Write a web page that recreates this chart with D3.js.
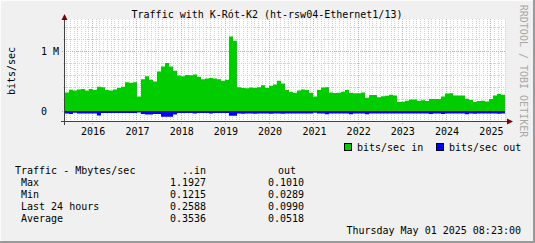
<!DOCTYPE html>
<html>
<head>
<meta charset="utf-8">
<script src="https://cdn.jsdelivr.net/npm/d3@7"></script>
<style>
  body { margin: 0; background: #f0f0f0; }
  text { font-family: "DejaVu Sans Mono", monospace; font-size: 10px; fill: #000; }
</style>
</head>
<body>
<svg id="chart" width="535" height="243"></svg>
<script>
const width = 535
const height = 243

// sampled values (M bits/sec), equally spaced over the graph period
const trafficIn = [
  0.31, 0.355, 0.34, 0.36, 0.365, 0.34, 0.365, 0.35, 0.405, 0.395,
  0.35, 0.34, 0.36, 0.385, 0.405, 0.48, 0.47, 0.48, 0.24, 0.53,
  0.58, 0.52, 0.49, 0.66, 0.74, 0.80, 0.74, 0.67, 0.59, 0.58,
  0.60, 0.595, 0.61, 0.57, 0.53, 0.54, 0.55, 0.54, 0.53, 0.505,
  0.52, 1.24, 1.17, 0.395, 0.385, 0.38, 0.39, 0.385, 0.395, 0.43,
  0.385, 0.42, 0.44, 0.505, 0.46, 0.35, 0.315, 0.305, 0.34, 0.36,
  0.35, 0.305, 0.24, 0.35, 0.39, 0.395, 0.31, 0.30, 0.305, 0.32,
  0.35, 0.305, 0.295, 0.295, 0.31, 0.22, 0.265, 0.265, 0.23, 0.245,
  0.255, 0.27, 0.26, 0.15, 0.155, 0.17, 0.19, 0.19, 0.17, 0.18,
  0.165, 0.2, 0.2, 0.2, 0.24, 0.29, 0.295, 0.26, 0.26, 0.26,
  0.205, 0.185, 0.15, 0.165, 0.17, 0.16, 0.2, 0.26, 0.285, 0.27
];
const trafficOut = [
  0.04, 0.05, 0.03, 0.04, 0.04, 0.04, 0.04, 0.04, 0.075, 0.035,
  0.035, 0.035, 0.035, 0.035, 0.035, 0.035, 0.035, 0.035, 0.025, 0.05,
  0.06, 0.06, 0.05, 0.05, 0.095, 0.095, 0.095, 0.06, 0.035, 0.035,
  0.035, 0.035, 0.04, 0.035, 0.035, 0.035, 0.04, 0.035, 0.035, 0.035,
  0.035, 0.08, 0.08, 0.04, 0.045, 0.04, 0.04, 0.045, 0.04, 0.04,
  0.04, 0.045, 0.04, 0.04, 0.045, 0.04, 0.04, 0.04, 0.04, 0.04,
  0.04, 0.04, 0.03, 0.04, 0.04, 0.055, 0.04, 0.04, 0.04, 0.04,
  0.04, 0.055, 0.04, 0.04, 0.04, 0.055, 0.04, 0.04, 0.04, 0.04,
  0.04, 0.04, 0.04, 0.04, 0.04, 0.04, 0.04, 0.04, 0.04, 0.04,
  0.04, 0.05, 0.04, 0.04, 0.05, 0.04, 0.04, 0.04, 0.04, 0.04,
  0.055, 0.04, 0.045, 0.04, 0.04, 0.04, 0.04, 0.04, 0.045, 0.04
];

const periodStart = new Date(2015, 4, 22);
const periodEnd = new Date(2025, 4, 1, 8, 23);

const yTicks = [0, 1];
const yTickLabels = ["0", "1 M"];

const statRows = ["Max", "Min", "Last 24 hours", "Average"];
const statIn = ["1.1927", "0.1215", "0.2588", "0.3536"];
const statOut = ["0.1010", "0.0289", "0.0990", "0.0518"];

const legendItems = [
  { label: "bits/sec in", color: "#00cc00" },
  { label: "bits/sec out", color: "#0000ff" }
];

const svg = d3.select("#chart");

const plotLeft = 65, plotRight = 505, plotTop = 21, plotBottom = 121;

const x = d3.scaleTime().domain([periodStart, periodEnd]).range([plotLeft, plotRight]);
const y = d3.scaleLinear().domain([-1 / 6, 1.5]).range([plotBottom, plotTop]);

// background + 3d frame
svg.append("rect").attr("width", width).attr("height", height).attr("fill", "#f0f0f0");
svg.append("path").attr("d", `M0.5,${height} V0.5 H${width}`).attr("stroke", "#fcfcfc").attr("fill", "none");
svg.append("path").attr("d", `M0,${height - 1} H${width - 1} V0`).attr("stroke", "#9a9a9a").attr("stroke-width", 2).attr("fill", "none");

// canvas
svg.append("rect").attr("x", plotLeft).attr("y", plotTop - 2).attr("width", plotRight - plotLeft).attr("height", plotBottom - plotTop + 2).attr("fill", "#fff");

// grid
const grid = svg.append("g");
const months = d3.timeMonth.range(d3.timeMonth.ceil(periodStart), periodEnd);
months.forEach(m => {
  const px = Math.round(x(m)) + 0.5;
  const major = m.getMonth() === 0;
  grid.append("line")
    .attr("x1", px).attr("x2", px).attr("y1", plotTop - 2).attr("y2", plotBottom + (major ? 3 : 2))
    .attr("stroke", major ? "#f29a9a" : "#d2d2d2")
    .attr("stroke-dasharray", "1,1");
});
d3.range(0, 1.6, 0.2).forEach(v => {
  const py = Math.round(y(v)) + 0.5;
  const major = Math.abs(v - 1) < 1e-6 || Math.abs(v) < 1e-6;
  grid.append("line")
    .attr("x1", plotLeft - (major ? 3 : 2)).attr("x2", plotRight).attr("y1", py).attr("y2", py)
    .attr("stroke", major ? "#f29a9a" : "#d2d2d2")
    .attr("stroke-dasharray", "1,1");
});

// data as step areas
const step = (periodEnd - periodStart) / trafficIn.length;
const sampleDate = i => new Date(+periodStart + i * step);
const inPts = trafficIn.map((v, i) => [sampleDate(i), v]).concat([[periodEnd, trafficIn[trafficIn.length - 1]]]);
const outPts = trafficOut.map((v, i) => [sampleDate(i), -v]).concat([[periodEnd, -trafficOut[trafficOut.length - 1]]]);

const area = d3.area()
  .curve(d3.curveStepAfter)
  .x(d => x(d[0]))
  .y0(y(0))
  .y1(d => y(d[1]));

svg.append("path").datum(inPts).attr("d", area).attr("fill", "#00cc00");
svg.append("path").datum(outPts).attr("d", area).attr("fill", "#0000ff");

// axes
svg.append("line").attr("x1", plotLeft - 0.5).attr("x2", plotLeft - 0.5).attr("y1", 17).attr("y2", plotBottom + 4)
  .attr("stroke", "#404040");
svg.append("line").attr("x1", plotLeft - 4).attr("x2", plotRight + 3).attr("y1", plotBottom + 0.5).attr("y2", plotBottom + 0.5)
  .attr("stroke", "#404040");
svg.append("path").attr("d", `M${plotLeft - 3.5},20 L${plotLeft - 0.5},14 L${plotLeft + 2.5},20 Z`).attr("fill", "#7f0000");
svg.append("path").attr("d", `M${plotRight + 2},${plotBottom - 2.5} L${plotRight + 8},${plotBottom + 0.5} L${plotRight + 2},${plotBottom + 3.5} Z`).attr("fill", "#7f0000");

// y labels
yTicks.forEach((v, i) => {
  svg.append("text").attr("x", 41).attr("y", Math.round(y(v)) + 4).text(yTickLabels[i]);
});

// x labels
d3.timeYear.range(d3.timeYear.ceil(periodStart), periodEnd).forEach(d => {
  svg.append("text").attr("x", x(d) + 1).attr("y", 135).attr("text-anchor", "middle").text(d3.timeFormat("%Y")(d));
});

// titles
svg.append("text").attr("x", 267).attr("y", 18).attr("text-anchor", "middle")
  .text("Traffic with K-Rót-K2 (ht-rsw04-Ethernet1/13)");
svg.append("text").attr("transform", "translate(15,71) rotate(-90)").attr("text-anchor", "middle").text("bits/sec");
svg.append("text").attr("transform", "translate(520,71) rotate(90)").attr("text-anchor", "middle")
  .style("fill", "#a8a8a8").text("RRDTOOL / TOBI OETIKER");

// legend
const legendX = [344, 436];
legendItems.forEach((d, i) => {
  svg.append("rect").attr("x", legendX[i] + 0.5).attr("y", 143.5).attr("width", 7).attr("height", 7)
    .attr("fill", d.color).attr("stroke", "#000");
  svg.append("text").attr("x", legendX[i] + 13).attr("y", 151).text(d.label);
});

// stats table
const table = svg.append("g");
table.append("text").attr("x", 15).attr("y", 174).text("Traffic - Mbytes/sec");
table.append("text").attr("x", 206).attr("y", 174).attr("text-anchor", "end").text("..in");
table.append("text").attr("x", 278).attr("y", 174).text("out");
statRows.forEach((r, i) => {
  const yy = 186 + i * 12;
  table.append("text").attr("x", 21).attr("y", yy).text(r);
  table.append("text").attr("x", 206).attr("y", yy).attr("text-anchor", "end").text(statIn[i]);
  table.append("text").attr("x", 304).attr("y", yy).attr("text-anchor", "end").text(statOut[i]);
});

svg.append("text").attr("x", 521).attr("y", 234).attr("text-anchor", "end").text("Thursday May 01 2025 08:23:00");
</script>
</body>
</html>
